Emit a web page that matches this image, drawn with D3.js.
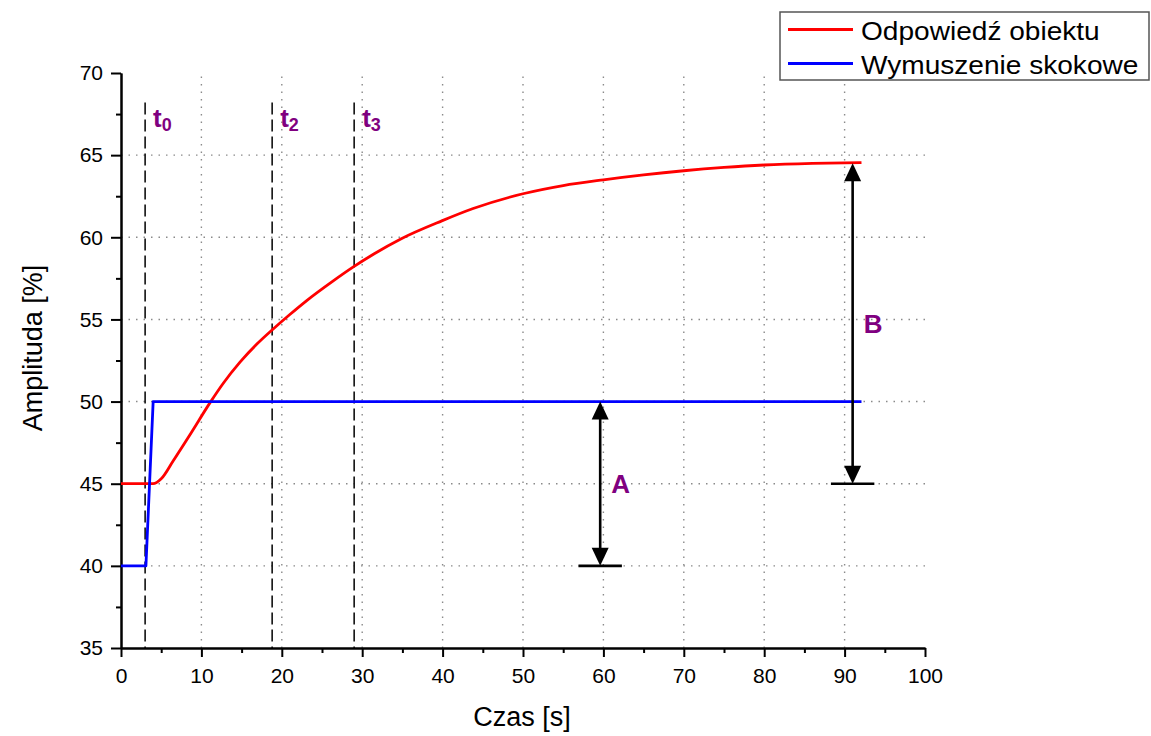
<!DOCTYPE html>
<html>
<head>
<meta charset="utf-8">
<script src="https://cdn.jsdelivr.net/npm/d3@7"></script>
<style>
  html, body { margin: 0; padding: 0; background: #fff; }
  svg { display: block; font-family: "Liberation Sans", Arial, sans-serif; }
</style>
</head>
<body>
<script>
// Step response of the plant (red) and the step input (blue)
const responseTime  = [0, 4.0, 5.0, 6.5, 8.6, 11.1, 12.7, 14.8, 16.9, 19.0, 21.0, 23.1, 26.4, 28.9, 31.5, 34.8, 39.9, 43.8, 50.0, 55.0, 60.0, 65.0, 70.0, 75.0, 80.0, 86.0, 92.1];
const responseValue = [45, 45, 45.3, 46.4, 48.0, 49.95, 51.1, 52.4, 53.5, 54.45, 55.3, 56.15, 57.35, 58.2, 59.0, 59.9, 61.0, 61.75, 62.65, 63.15, 63.5, 63.8, 64.05, 64.25, 64.4, 64.5, 64.55];

const stepTime  = [0, 3.1, 4.0, 92.1];
const stepValue = [40, 40, 50, 50];

// Characteristic time markers
const markerNames = ["0", "2", "3"];
const markerTimes = [3.0, 18.8, 29.0];
const markerTop = 68.2;

// Amplitude annotations: A = input step, B = output change
const annotNames = ["A", "B"];
const annotTime  = [59.6, 91.0];
const annotFrom  = [50, 64.5];
const annotTo    = [40, 45];

// Axis ticks
const xMajor = d3.range(0, 101, 10);
const xMinor = d3.range(5, 100, 10);
const yMajor = d3.range(35, 71, 5);
const yMinor = d3.range(37.5, 70, 5);
const xGrid = d3.range(10, 100, 10);
const yGrid = d3.range(40, 70, 5);

const legendNames = ["Odpowiedź obiektu", "Wymuszenie skokowe"];
const legendColors = ["#ff0000", "#0000ff"];

const W = 1151, H = 736;
const svg = d3.select("body").append("svg").attr("width", W).attr("height", H);

const x = d3.scaleLinear().domain([0, 100]).range([121, 925]);
const y = d3.scaleLinear().domain([35, 70]).range([648, 73]);

// dotted grid
const grid = svg.append("g").attr("stroke", "#8a8a8a").attr("stroke-width", 1.4)
  .attr("stroke-dasharray", "1.5,6").attr("fill", "none");
grid.selectAll("line.gx").data(xGrid).join("line").attr("class", "gx")
  .attr("x1", d => x(d)).attr("x2", d => x(d)).attr("y1", y(35)).attr("y2", y(70));
grid.selectAll("line.gy").data(yGrid).join("line").attr("class", "gy")
  .attr("x1", x(0)).attr("x2", x(100)).attr("y1", d => y(d)).attr("y2", d => y(d));

// dashed time markers
svg.append("g").selectAll("line").data(markerTimes).join("line")
  .attr("x1", d => x(d)).attr("x2", d => x(d))
  .attr("y1", y(markerTop)).attr("y2", y(35))
  .attr("stroke", "#111").attr("stroke-width", 1.6).attr("stroke-dasharray", "12,5");

const purple = "#800080";
const mLabels = svg.append("g").attr("fill", purple).attr("font-weight", "bold");
markerTimes.forEach((t, i) => {
  const tx = mLabels.append("text").attr("x", x(t) + 8).attr("y", 127).attr("font-size", 26);
  tx.append("tspan").text("t");
  tx.append("tspan").attr("dy", 4).attr("font-size", 18).text(markerNames[i]);
});

// axes
function styleAxis(g) {
  g.select(".domain").attr("stroke", "#000").attr("stroke-width", 2);
  g.selectAll(".tick line").attr("stroke", "#000").attr("stroke-width", 2);
  g.selectAll(".tick text").attr("font-size", 21).attr("fill", "#000")
    .attr("font-family", "'Liberation Sans', Arial, sans-serif");
}
svg.append("g").attr("transform", `translate(0,${y(35)})`)
  .call(d3.axisBottom(x).tickValues(xMinor).tickSize(5).tickSizeOuter(0).tickFormat(""))
  .call(styleAxis);
svg.append("g").attr("transform", `translate(0,${y(35)})`)
  .call(d3.axisBottom(x).tickValues(xMajor).tickSize(9).tickSizeOuter(0).tickPadding(11).tickFormat(d3.format("d")))
  .call(styleAxis);
svg.append("g").attr("transform", `translate(${x(0)},0)`)
  .call(d3.axisLeft(y).tickValues(yMinor).tickSize(5).tickSizeOuter(0).tickFormat(""))
  .call(styleAxis);
svg.append("g").attr("transform", `translate(${x(0)},0)`)
  .call(d3.axisLeft(y).tickValues(yMajor).tickSize(10).tickSizeOuter(0).tickPadding(8).tickFormat(d3.format("d")))
  .call(styleAxis);

// axis titles
svg.append("text").attr("x", 522).attr("y", 726).attr("text-anchor", "middle")
  .attr("font-size", 27).text("Czas [s]");
svg.append("text").attr("transform", "translate(42,348) rotate(-90)").attr("text-anchor", "middle")
  .attr("font-size", 27).text("Amplituda [%]");

// series
const stepPts = stepTime.map((t, i) => [t, stepValue[i]]);
const respPts = responseTime.map((t, i) => [t, responseValue[i]]);
svg.append("path").datum(respPts)
  .attr("d", d3.line().x(d => x(d[0])).y(d => y(d[1])).curve(d3.curveMonotoneX))
  .attr("fill", "none").attr("stroke", "#ff0000").attr("stroke-width", 2.8).attr("stroke-linejoin", "round");
svg.append("path").datum(stepPts)
  .attr("d", d3.line().x(d => x(d[0])).y(d => y(d[1])))
  .attr("fill", "none").attr("stroke", "#0000ff").attr("stroke-width", 2.8).attr("stroke-linejoin", "round");

// double-headed amplitude arrows with a base bar
const ann = svg.append("g");
annotNames.forEach((name, i) => {
  const ax = x(annotTime[i]);
  const y1 = y(annotFrom[i]), y2 = y(annotTo[i]);
  const hw = 8.5, hl = 18;
  ann.append("line").attr("x1", ax).attr("x2", ax).attr("y1", y1 + hl - 2).attr("y2", y2 - hl + 2)
    .attr("stroke", "#000").attr("stroke-width", 2.6);
  ann.append("path").attr("d", `M${ax},${y1}L${ax - hw},${y1 + hl}L${ax + hw},${y1 + hl}Z`).attr("fill", "#000");
  ann.append("path").attr("d", `M${ax},${y2}L${ax - hw},${y2 - hl}L${ax + hw},${y2 - hl}Z`).attr("fill", "#000");
  ann.append("line").attr("x1", x(annotTime[i] - 2.7)).attr("x2", x(annotTime[i] + 2.7))
    .attr("y1", y2).attr("y2", y2).attr("stroke", "#000").attr("stroke-width", 2.6);
  const mid = (annotFrom[i] + annotTo[i]) / 2;
  ann.append("text").attr("x", ax + 11).attr("y", y(mid) + 9)
    .attr("font-size", 26).attr("font-weight", "bold").attr("fill", purple).text(name);
});

// legend
const lg = svg.append("g");
lg.append("rect").attr("x", 780).attr("y", 12).attr("width", 369).attr("height", 68)
  .attr("fill", "#fff").attr("stroke", "#555").attr("stroke-width", 1.5);
legendNames.forEach((n, i) => {
  const ly = 29.5 + i * 34;
  lg.append("line").attr("x1", 788).attr("x2", 853).attr("y1", ly).attr("y2", ly)
    .attr("stroke", legendColors[i]).attr("stroke-width", 2.8);
  lg.append("text").attr("transform", `translate(861,${ly + 10}) scale(1.08,1)`)
    .attr("font-size", 26).text(n);
});
</script>
</body>
</html>
